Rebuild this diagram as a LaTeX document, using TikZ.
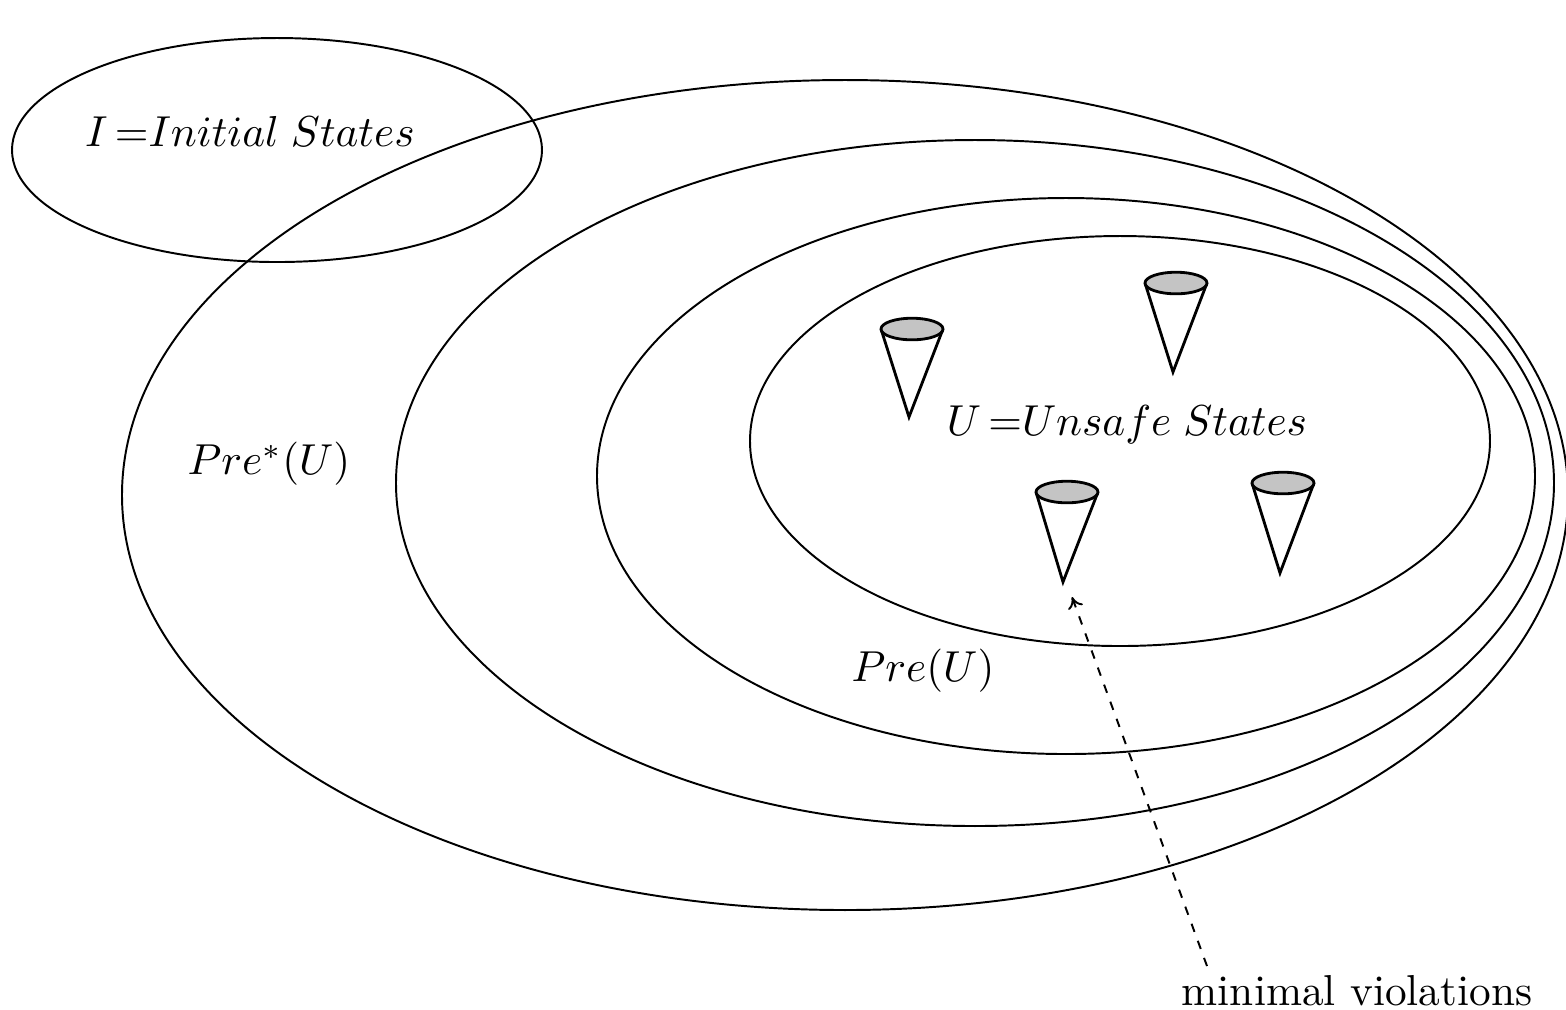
\documentclass[tikz,border=0pt]{standalone}
\usetikzlibrary{arrows.meta}
\newcommand{\eqgap}{\mskip 3mu}
\newcommand{\wordgap}{\mskip 5mu}
\begin{document}
\begin{tikzpicture}[x=0.00812cm, y=-0.00812cm,
    region/.style={line width=0.45pt},
    conetop/.style={line width=0.65pt, fill=black!23},
    coneside/.style={line width=0.65pt},
    lbl/.style={inner sep=0pt},
    pointer/.style={line width=0.45pt, dash pattern=on 2pt off 2.2pt, -{To[length=2.6pt,width=3.6pt]}}]
  \useasboundingbox (0,0) rectangle (1566,1009);
  \begin{scope}
    \clip (0,0) rectangle (1566,1009);
    % nested backward-reachability regions
    \draw[region] (845,495) ellipse [x radius=723, y radius=415];
    \draw[region] (975,483) ellipse [x radius=579, y radius=343];
    \draw[region] (1066,476) ellipse [x radius=469, y radius=278];
    \draw[region] (1120,441) ellipse [x radius=370, y radius=205];
    % initial states
    \draw[region] (277,150) ellipse [x radius=265, y radius=112];
  \end{scope}

  % labels
  \node[lbl] (init) at (250,131) {$I\eqgap{=}Initial\wordgap States$};
  \node[lbl] (prestar) at (269,464) {$Pre^*(U)$};
  \node[lbl] (unsafe) at (1127,425) {$U\eqgap{=}Unsafe\wordgap States$};
  \node[lbl] (pre) at (923,671) {$Pre(U)$};
  \node[lbl] (minv) at (1357,991) {minimal violations};

  % upward-closed cones of minimal violations
  \foreach \cx/\cy/\tx/\ty [count=\i] in {912/329/909/417, 1176/283/1173/372, 1067/492/1063/582, 1283/483/1280/573}{
    \coordinate (tip\i) at (\tx,\ty);
    \draw[coneside] (\cx-31,\cy) -- (tip\i) -- (\cx+31,\cy);
    \draw[conetop] (\cx,\cy) ellipse [x radius=31, y radius=10.8];
  }

  % pointer to a minimal violation
  \coordinate (foot) at (1207,966);
  \coordinate (head) at (1072,597);
  \draw[pointer] (foot) -- (head);
\end{tikzpicture}
\end{document}
